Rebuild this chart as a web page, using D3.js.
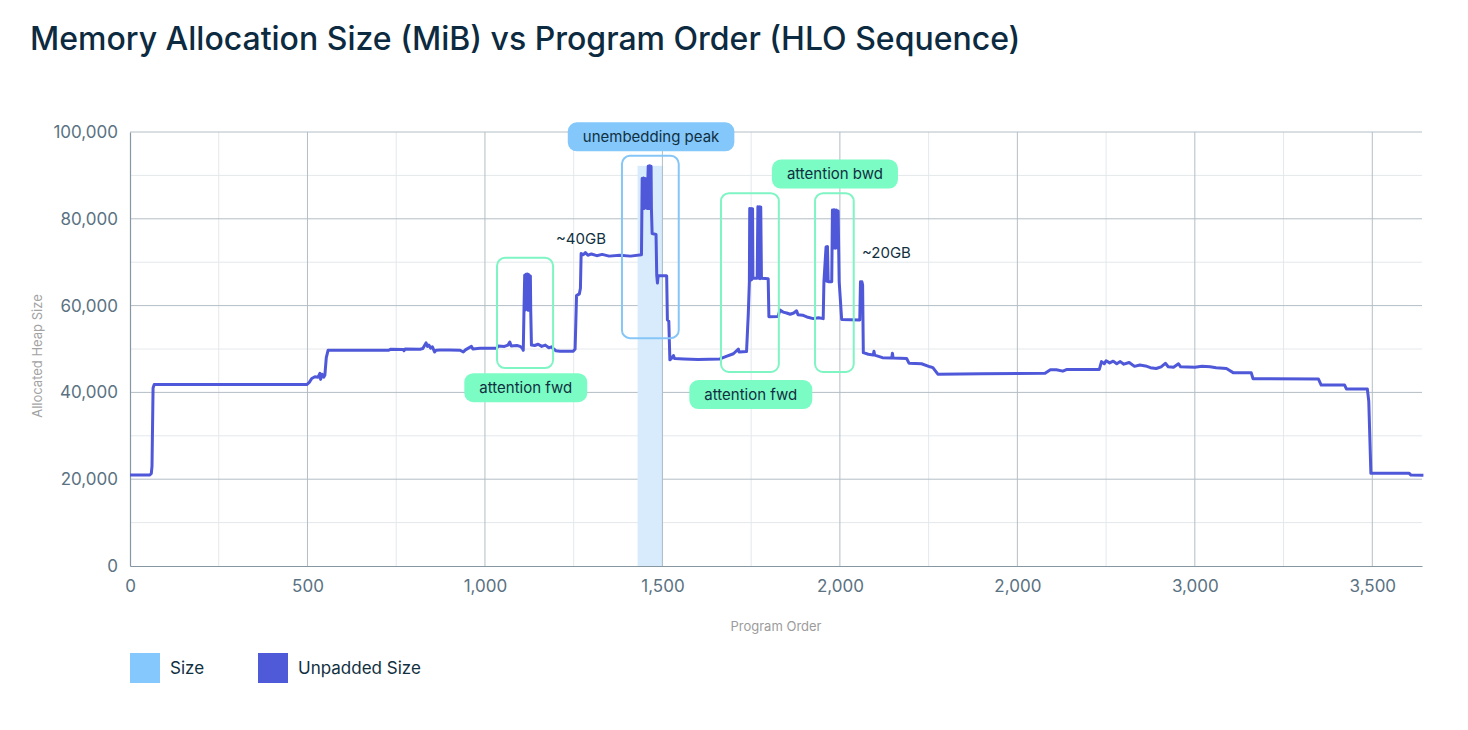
<!DOCTYPE html>
<html>
<head>
<meta charset="utf-8">
<script src="https://cdn.jsdelivr.net/npm/d3@7"></script>
<style>
  body { margin: 0; background: #fff; font-family: Inter, "Noto Sans", sans-serif; }
  svg text { font-family: Inter, "Noto Sans", sans-serif; }
</style>
</head>
<body>
<div id="chart"></div>
<script>
// program order (HLO sequence index) and allocated heap (MiB)
const seqOrder = [
  0, 56, 60, 62, 65, 68, 498, 505, 512, 521, 530, 535, 537, 541, 546, 549, 553, 558,
  728, 735, 770, 772, 775, 817, 825, 834, 838, 842, 847, 852, 858, 862, 873, 900, 930, 939, 945, 962, 966, 986,
  1033, 1037, 1055, 1065, 1070, 1074, 1090, 1099, 1105, 1108,
  1110, 1112, 1114, 1116, 1118, 1120, 1122, 1124, 1126, 1128, 1129, 1131,
  1140, 1150, 1160, 1170, 1180, 1188, 1192, 1200, 1211, 1249, 1254, 1256, 1258, 1266, 1269, 1271,
  1277, 1283, 1290, 1300, 1315, 1330, 1350, 1380, 1410, 1441,
  1443, 1445, 1447, 1449, 1451, 1453, 1455, 1457, 1460, 1462, 1464, 1466, 1468, 1469, 1471,
  1482, 1484, 1486, 1488, 1510, 1512, 1514, 1518, 1521, 1525, 1531, 1534,
  1560, 1600, 1662, 1680, 1700, 1714, 1716, 1737, 1742, 1745,
  1746, 1748, 1750, 1752, 1754, 1755, 1767, 1769, 1771, 1773, 1775, 1777, 1779, 1798, 1800,
  1826, 1831, 1840, 1850, 1860, 1870, 1878, 1882, 1895, 1910, 1925, 1940, 1953,
  1955, 1961, 1963, 1965, 1967, 1977, 1979, 1981, 1984, 1987, 1990, 1993, 1995, 1998, 2005,
  2056, 2058, 2060, 2062, 2064, 2066, 2080, 2094, 2096, 2098, 2120, 2146, 2148, 2150,
  2188, 2195, 2230, 2254, 2262, 2276, 2400, 2578, 2593, 2610, 2628, 2640, 2731,
  2737, 2745, 2750, 2760, 2770, 2780, 2790, 2800, 2815, 2830, 2845, 2861, 2875, 2891, 2905, 2917,
  2925, 2940, 2954, 2960, 3000, 3020, 3043, 3060, 3089, 3109, 3159, 3164, 3348, 3356,
  3422, 3427, 3486, 3490, 3496, 3604, 3609, 3644
];
const heapMiB = [
  20970, 20970, 21300, 23000, 41000, 41800, 41800, 42300, 43200, 43600, 43500, 44400, 43000, 44200, 43500, 44000, 48000, 49700,
  49700, 49950, 49900, 49600, 50000, 49950, 50100, 51400, 50600, 50900, 50200, 50500, 49300, 49700, 49750, 49750, 49700, 49300, 49800, 50600, 50000, 50150,
  50150, 50700, 50600, 50900, 51600, 50700, 50800, 50600, 50200, 49700,
  59000, 67000, 59000, 67200, 59200, 67300, 58900, 67100, 59000, 66800, 58800, 50900,
  50800, 51100, 50600, 50900, 50300, 50500, 50100, 49600, 49500, 49500, 50000, 56000, 62300, 62700, 64000, 72000,
  71700, 72200, 71600, 71900, 71500, 71800, 71400, 71600, 71400, 71700,
  89300, 82400, 89400, 82400, 89300, 82600, 89200, 82400, 92100, 82400, 92200, 82500, 92100, 82400, 76600,
  76400, 67000, 65200, 66900, 66900, 66800, 56700, 56400, 47500, 47800, 48500, 47800,
  47700, 47600, 47700, 48300, 48900, 50000, 49300, 49400, 58200, 65500,
  82400, 65800, 82400, 66000, 82300, 66300, 66300, 82800, 66300, 82800, 66200, 82700, 66300, 66200, 57450,
  57500, 59000, 58500, 58300, 58000, 58300, 58800, 57900, 57800, 57300, 57000, 57200, 57000,
  65500, 73500, 65600, 73600, 65500, 65500, 82000, 73200, 82100, 73200, 82000, 73300, 81800, 65500, 56800,
  56700, 65500, 64000, 65500, 64800, 49150, 48800, 48600, 49500, 48600, 48000, 47900, 49000, 47900,
  47800, 46700, 46600, 45900, 45700, 44200, 44300, 44400, 45200, 45200, 44900, 45300, 45300,
  47100, 46600, 47300, 46800, 47200, 46600, 47100, 46500, 46900, 46000, 46300, 46100, 45700, 45500, 45900, 46700,
  45900, 45800, 46600, 45900, 45800, 46000, 45900, 45700, 45500, 44500, 44500, 43150, 43100, 41700,
  41700, 40800, 40800, 38000, 21350, 21350, 20950, 20900
];

// "Size" series only shows where padding matters: around the unembedding peak
const sizeBand = { start: 1430, end: 1501, value: 92200 };

const xTickValues = [0, 500, 1000, 1500, 2000, 2500, 3000, 3500];
const xTickLabels = ["0", "500", "1,000", "1,500", "2,000", "2,000", "3,000", "3,500"];
const yTickValues = [0, 20000, 40000, 60000, 80000, 100000];

// highlighted regions: [label, order from, order to, heap low, heap high, kind]
const regions = [
  ["attention fwd", 1034, 1192, 45600, 71000, "fwd"],
  ["unembedding peak", 1386, 1546, 52500, 94500, "peak"],
  ["attention fwd", 1665, 1828, 44700, 85900, "fwd"],
  ["attention bwd", 1930, 2039, 44700, 85900, "bwd"]
];
// pill labels: [text, order centre, heap centre, kind]
const pills = [
  ["attention fwd", 1115, 41100, "fwd"],
  ["unembedding peak", 1468, 98900, "peak"],
  ["attention fwd", 1749, 39500, "fwd"],
  ["attention bwd", 1986, 90300, "bwd"]
];
// plain notes: [text, order start, heap]
const notes = [
  ["~40GB", 1200, 75500],
  ["~20GB", 2062, 72100]
];

const W = 1468, H = 730;
const margin = { top: 132, right: 46, bottom: 164, left: 130 };
const innerW = W - margin.left - margin.right;
const innerH = H - margin.top - margin.bottom;

const svg = d3.select("#chart").append("svg")
  .attr("width", W)
  .attr("height", H);

svg.append("text")
  .attr("x", 30)
  .attr("y", 50)
  .attr("font-size", 32)
  .attr("font-weight", 500)
  .attr("fill", "#0c2a40")
  .text("Memory Allocation Size (MiB) vs Program Order (HLO Sequence)");

const g = svg.append("g")
  .attr("transform", `translate(${margin.left},${margin.top})`);

const x = d3.scaleLinear().domain([0, 3640]).range([0, innerW]);
const y = d3.scaleLinear().domain([0, 100000]).range([innerH, 0]);

// minor grid
g.append("g").selectAll("line")
  .data(d3.range(250, 3640, 500))
  .enter().append("line")
  .attr("x1", d => x(d)).attr("x2", d => x(d))
  .attr("y1", 0).attr("y2", innerH)
  .attr("stroke", "#e4e8eb");
g.append("g").selectAll("line")
  .data(d3.range(10000, 100000, 20000))
  .enter().append("line")
  .attr("x1", 0).attr("x2", innerW)
  .attr("y1", d => y(d)).attr("y2", d => y(d))
  .attr("stroke", "#e4e8eb");

// major grid
g.append("g").selectAll("line")
  .data(xTickValues.slice(1))
  .enter().append("line")
  .attr("x1", d => x(d)).attr("x2", d => x(d))
  .attr("y1", 0).attr("y2", innerH)
  .attr("stroke", "#b3bec5");
g.append("g").selectAll("line")
  .data(yTickValues.slice(1))
  .enter().append("line")
  .attr("x1", 0).attr("x2", innerW)
  .attr("y1", d => y(d)).attr("y2", d => y(d))
  .attr("stroke", "#b3bec5");

// size band
g.append("rect")
  .attr("x", x(sizeBand.start))
  .attr("y", y(sizeBand.value))
  .attr("width", x(sizeBand.end) - x(sizeBand.start))
  .attr("height", innerH - y(sizeBand.value))
  .attr("fill", "#d7ebfd");
g.append("line")
  .attr("x1", x(1500)).attr("x2", x(1500))
  .attr("y1", y(sizeBand.value)).attr("y2", innerH)
  .attr("stroke", "#a9bccb");

// axes
const xAxis = d3.axisBottom(x)
  .tickValues(xTickValues)
  .tickSize(0)
  .tickPadding(12)
  .tickFormat((d, i) => xTickLabels[i]);
const yAxis = d3.axisLeft(y)
  .tickValues(yTickValues)
  .tickSize(0)
  .tickPadding(12)
  .tickFormat(d3.format(","));

const gx = g.append("g").attr("transform", `translate(0,${innerH})`).call(xAxis);
const gy = g.append("g").call(yAxis);
[gx, gy].forEach(a => {
  a.select(".domain").attr("stroke", "#8797a2").attr("stroke-width", 1.2);
  a.selectAll("text").attr("font-size", 17).attr("fill", "#5a7282");
});
gx.selectAll("text").attr("dy", "0.85em");

// unpadded size line
const line = d3.line()
  .x(d => x(d[0]))
  .y(d => y(d[1]));
g.append("path")
  .datum(seqOrder.map((o, i) => [o, heapMiB[i]]))
  .attr("fill", "none")
  .attr("stroke", "#4f58d8")
  .attr("stroke-width", 3)
  .attr("stroke-linejoin", "round")
  .attr("d", line);

// region boxes
const boxColor = { fwd: "#7ff5c4", bwd: "#7ff5c4", peak: "#86c6f7" };
const pillColor = { fwd: "#7bfcc5", bwd: "#7bfcc5", peak: "#83c7fb" };

g.append("g").selectAll("rect")
  .data(regions)
  .enter().append("rect")
  .attr("x", d => x(d[1]))
  .attr("y", d => y(d[4]))
  .attr("width", d => x(d[2]) - x(d[1]))
  .attr("height", d => y(d[3]) - y(d[4]))
  .attr("rx", 8)
  .attr("fill", "none")
  .attr("stroke", d => boxColor[d[5]])
  .attr("stroke-width", 2);

const pill = g.append("g").selectAll("g")
  .data(pills)
  .enter().append("g")
  .attr("transform", d => `translate(${x(d[1])},${y(d[2])})`);
pill.append("rect").attr("class", "bg");
pill.append("text")
  .attr("text-anchor", "middle")
  .attr("dy", "0.35em")
  .attr("font-size", 15)
  .attr("fill", "#11303f")
  .text(d => d[0]);
pill.each(function () {
  const t = d3.select(this).select("text").node().getComputedTextLength();
  d3.select(this).select("rect.bg")
    .attr("x", -t / 2 - 15)
    .attr("y", -14.5)
    .attr("width", t + 30)
    .attr("height", 29)
    .attr("rx", 9)
    .attr("fill", d => pillColor[d[3]]);
});

g.append("g").selectAll("text")
  .data(notes)
  .enter().append("text")
  .attr("x", d => x(d[1]))
  .attr("y", d => y(d[2]))
  .attr("dy", "0.35em")
  .attr("font-size", 15)
  .attr("fill", "#11303f")
  .text(d => d[0]);

// axis titles
svg.append("text")
  .attr("transform", "translate(42,356) rotate(-90)")
  .attr("text-anchor", "middle")
  .attr("font-size", 13)
  .attr("fill", "#a3a3a3")
  .text("Allocated Heap Size");
svg.append("text")
  .attr("x", margin.left + innerW / 2)
  .attr("y", 631)
  .attr("text-anchor", "middle")
  .attr("font-size", 13)
  .attr("fill", "#9c9c9c")
  .text("Program Order");

// legend
const legendItems = [["Size", "#85c8fd"], ["Unpadded Size", "#4f5ad8"]];
const lg = svg.append("g").attr("transform", "translate(130,653)");
const li = lg.selectAll("g")
  .data(legendItems)
  .enter().append("g")
  .attr("transform", (d, i) => `translate(${i * 128},0)`);
li.append("rect").attr("width", 30).attr("height", 30).attr("fill", d => d[1]);
li.append("text")
  .attr("x", 40)
  .attr("y", 15)
  .attr("dy", "0.35em")
  .attr("font-size", 17)
  .attr("fill", "#11303f")
  .text(d => d[0]);
</script>
</body>
</html>
